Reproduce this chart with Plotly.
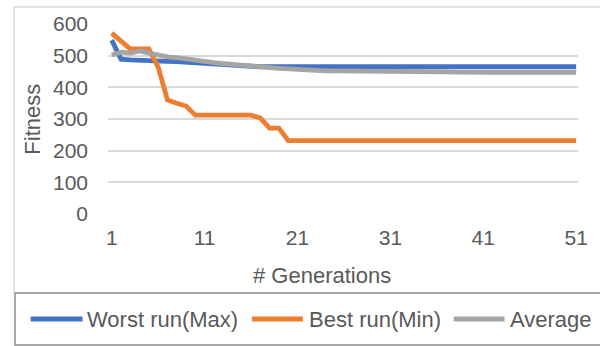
import plotly.graph_objects as go

# Fitness per generation for the three tracked runs
generations = list(range(1, 52))
worst_max = [549, 489, 487, 485, 484, 483, 482, 481, 479, 477,
             475, 474, 471, 468, 466, 465] + [465] * 35
best_min = [571, 545, 521, 521, 521, 464, 360, 350, 341, 312,
            312, 312, 312, 312, 312, 312, 303, 271, 271, 232] + [232] * 31
average = [502, 511, 508, 515, 508, 502, 496, 494, 490, 483,
           481, 478, 475, 472, 470, 468, 466, 463, 460, 458,
           456, 454, 452] + [452] * 11 + [451, 450, 449, 448] + [447] * 13

series_names = ["Worst run(Max)", "Best run(Min)", "Average"]
series_colors = ["#4472C4", "#ED7D31", "#A5A5A5"]
x_ticks = [1, 11, 21, 31, 41, 51]
y_ticks = [0, 100, 200, 300, 400, 500, 600]

FONT = "Liberation Sans, Arial, sans-serif"
TXT = "#595959"

W, H = 600, 346
L, R, T, B = 108, 588, 24, 214   # plot area in pixels


def px(x):
    return (x - L) / (R - L)


def py(y):
    return (B - y) / (B - T)


fig = go.Figure()
for name, vals, col in zip(series_names, [worst_max, best_min, average], series_colors):
    fig.add_trace(go.Scatter(
        x=generations, y=vals, name=name, mode="lines",
        line=dict(color=col, width=4.8, shape="linear"),
        showlegend=False,
    ))

# Legend row drawn in a framed strip under the chart
legend_y = 319
legend_slots = [(29, 82, 85), (255, 307, 311), (461, 513, 516)]
shapes = [
    # chart frame (left and top edges)
    dict(type="line", xref="paper", yref="paper",
         x0=px(12), x1=px(12), y0=py(7), y1=py(293),
         line=dict(color="#D9D9D9", width=1.5)),
    dict(type="line", xref="paper", yref="paper",
         x0=px(12), x1=px(620), y0=py(7), y1=py(7),
         line=dict(color="#D9D9D9", width=1.5)),
    # legend box
    dict(type="rect", xref="paper", yref="paper",
         x0=px(13), x1=px(640), y0=py(293), y1=py(345),
         line=dict(color="#8C8C8C", width=1.5), fillcolor="rgba(0,0,0,0)"),
]
annotations = [
    dict(text="# Generations", xref="paper", yref="paper",
         x=px(327), y=py(275), xanchor="center", yanchor="middle",
         showarrow=False, font=dict(size=22, color=TXT)),
    dict(text="Fitness", xref="paper", yref="paper",
         x=px(30), y=py(119), xanchor="center", yanchor="middle",
         textangle=-90, showarrow=False, font=dict(size=22, color=TXT)),
]
for (x0, x1, xt), name, col in zip(legend_slots, series_names, series_colors):
    shapes.append(dict(type="line", xref="paper", yref="paper",
                       x0=px(x0), x1=px(x1), y0=py(legend_y), y1=py(legend_y),
                       line=dict(color=col, width=4.8)))
    annotations.append(dict(text=name, xref="paper", yref="paper",
                            x=px(xt), y=py(legend_y), xanchor="left",
                            yanchor="middle", showarrow=False,
                            font=dict(size=22, color=TXT)))

fig.update_layout(
    width=W, height=H,
    margin=dict(l=L, r=W - R, t=T, b=H - B, pad=0),
    paper_bgcolor="white", plot_bgcolor="white",
    font=dict(family=FONT, color=TXT, size=21),
    showlegend=False,
    xaxis=dict(
        range=[0.6, 51.2], tickmode="array", tickvals=x_ticks,
        ticktext=[str(v) for v in x_ticks], showgrid=False, zeroline=False,
        showline=False, ticks="", ticklabelstandoff=9,
        tickfont=dict(size=21, color=TXT),
    ),
    yaxis=dict(
        range=[0, 600], tickmode="array", tickvals=y_ticks,
        showgrid=True, gridcolor="#D9D9D9", gridwidth=1.5, zeroline=False,
        showline=False, ticks="", ticklabelstandoff=19,
        tickfont=dict(size=21, color=TXT),
    ),
    annotations=annotations,
    shapes=shapes,
)

fig.write_html("out.html")
